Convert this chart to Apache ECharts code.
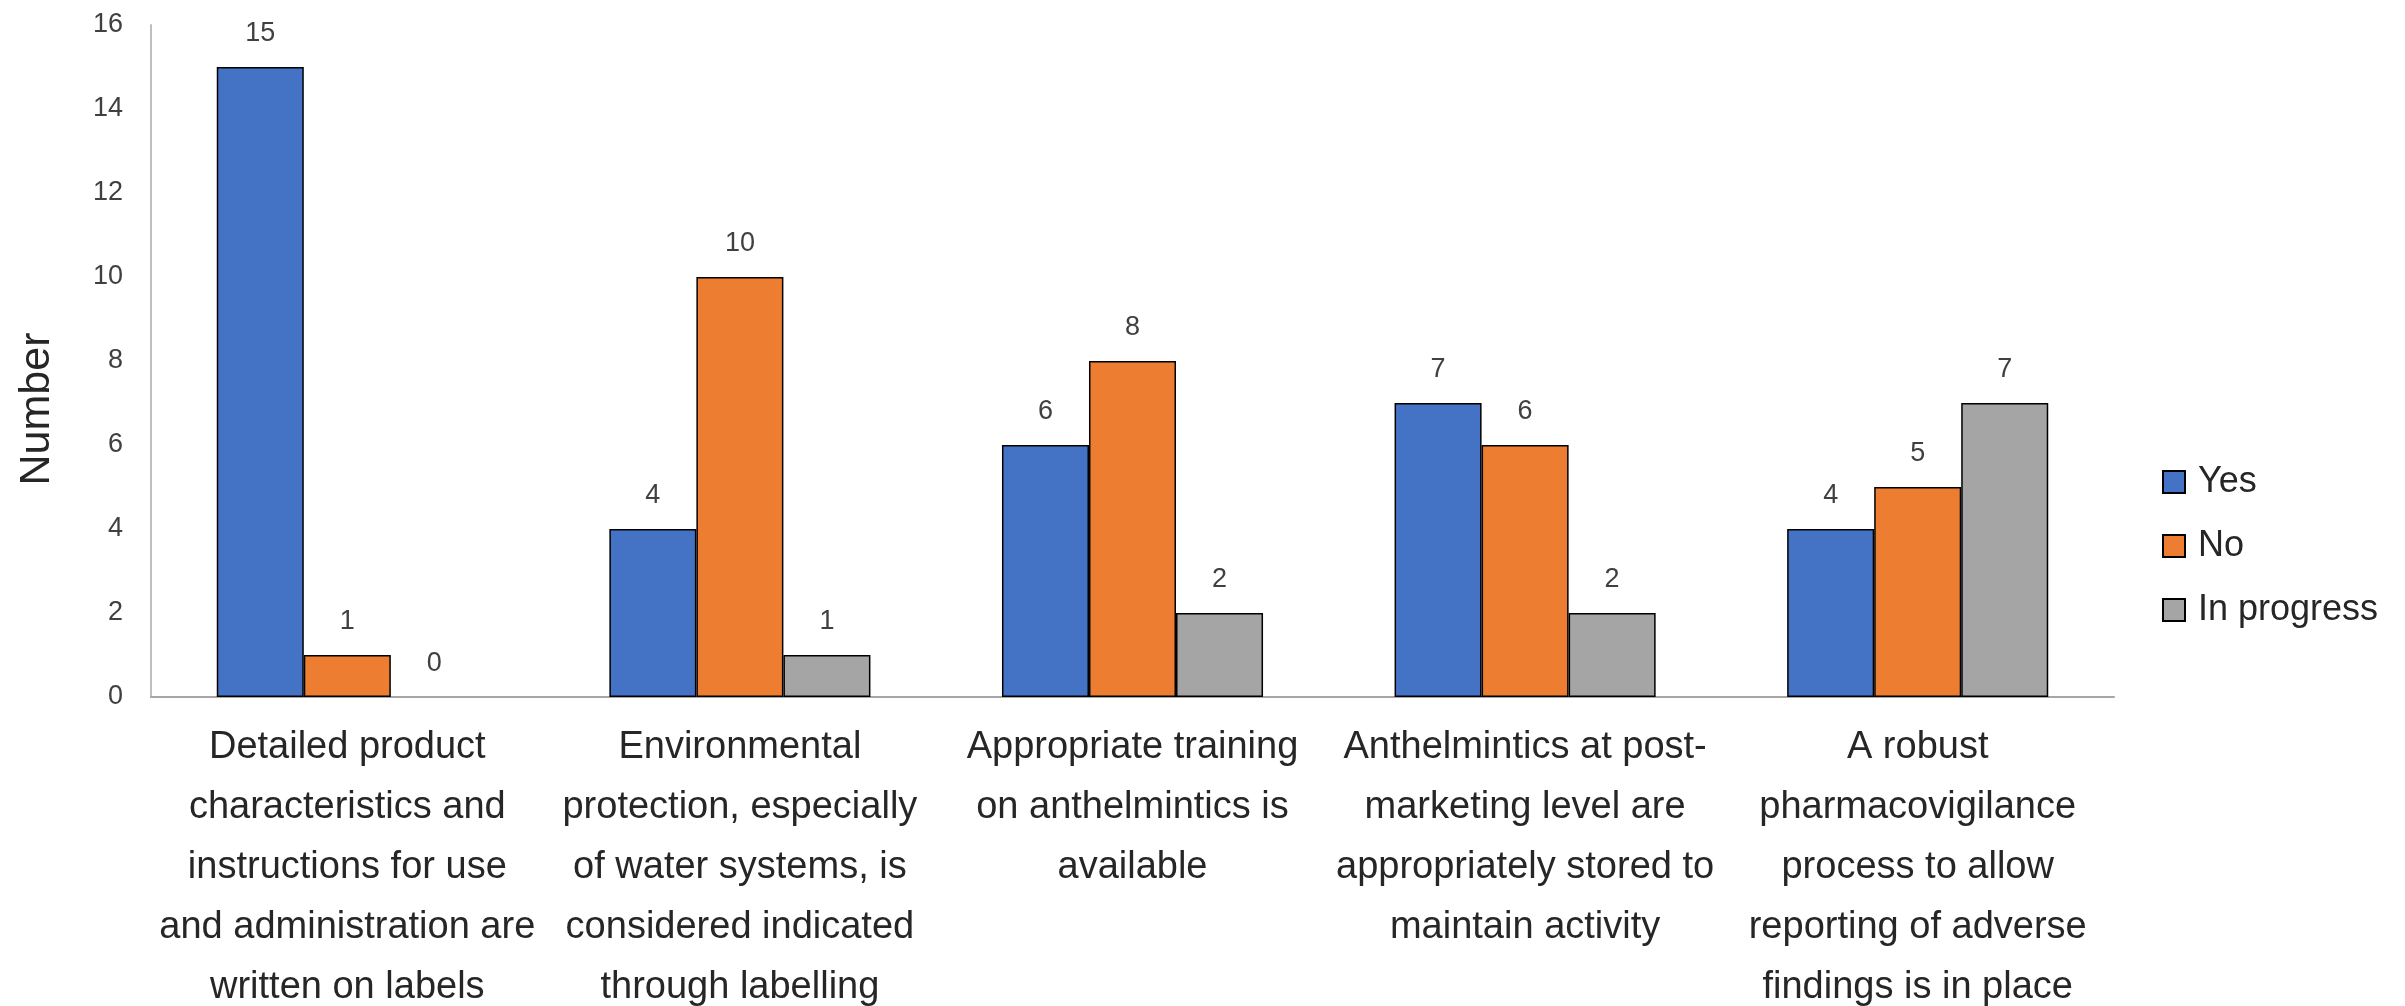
<!DOCTYPE html>
<html>
<head>
<meta charset="utf-8">
<script src="https://cdn.jsdelivr.net/npm/echarts@6/dist/echarts.min.js"></script>
<style>
html,body{margin:0;padding:0;background:#fff;}
#chart{width:2405px;height:1006px;}
</style>
</head>
<body>
<div id="chart"></div>
<script>
const categories = [
  "Detailed product\ncharacteristics and\ninstructions for use\nand administration are\nwritten on labels",
  "Environmental\nprotection, especially\nof water systems, is\nconsidered indicated\nthrough labelling",
  "Appropriate training\non anthelmintics is\navailable",
  "Anthelmintics at post-\nmarketing level are\nappropriately stored to\nmaintain activity",
  "A robust\npharmacovigilance\nprocess to allow\nreporting of adverse\nfindings is in place"
];
const yesValues = [15, 4, 6, 7, 4];
const noValues = [1, 10, 8, 6, 5];
const inProgressValues = [0, 1, 2, 2, 7];
const seriesNames = ["Yes", "No", "In progress"];
const seriesColors = ["#4472C4", "#ED7D31", "#A5A5A5"];
const yTicks = { min: 0, max: 16, interval: 2 };

const FONT = "Liberation Sans, Arial, sans-serif";
const chart = echarts.init(document.getElementById('chart'));

function makeSeries(name, data, color) {
  return {
    name: name,
    type: 'bar',
    data: data.map(v => v === 0 ? { value: v, itemStyle: { borderWidth: 0 } } : v),
    barGap: '0%',
    barCategoryGap: '33.5%',
    itemStyle: { color: color, borderColor: '#000', borderWidth: 1.5 },
    label: {
      show: true, position: 'top', distance: 20,
      fontFamily: FONT, fontSize: 27, color: '#404040'
    }
  };
}

chart.setOption({
  animation: false,
  backgroundColor: '#fff',
  grid: { left: 151, right: 291, top: 25, bottom: 309, containLabel: false, outerBoundsMode: 'none' },
  legend: {
    orient: 'vertical',
    left: 2157, top: 459,
    itemWidth: 22, itemHeight: 22, itemGap: 28,
    icon: 'rect',
    textStyle: { fontFamily: FONT, fontSize: 36, color: '#262626', lineHeight: 36, padding: [0, 0, 0, 8] },
    data: seriesNames
  },
  xAxis: {
    type: 'category',
    data: categories,
    axisLine: { lineStyle: { color: '#A6A6A6', width: 2 } },
    axisTick: { show: false },
    axisLabel: {
      interval: 0, margin: 21,
      fontFamily: FONT, fontSize: 38, lineHeight: 60, color: '#262626', align: 'center'
    }
  },
  yAxis: {
    type: 'value',
    min: yTicks.min, max: yTicks.max, interval: yTicks.interval,
    name: 'Number',
    nameLocation: 'middle',
    nameGap: 92,
    nameRotate: 90,
    nameTextStyle: { fontFamily: FONT, fontSize: 43, color: '#262626', padding: [0, 96, 0, 0] },
    axisLine: { show: true, lineStyle: { color: '#BFBFBF', width: 2 } },
    axisTick: { show: false },
    splitLine: { show: false },
    axisLabel: { margin: 28, fontFamily: FONT, fontSize: 27, color: '#404040' }
  },
  series: [
    makeSeries(seriesNames[0], yesValues, seriesColors[0]),
    makeSeries(seriesNames[1], noValues, seriesColors[1]),
    makeSeries(seriesNames[2], inProgressValues, seriesColors[2])
  ]
});
</script>
</body>
</html>
